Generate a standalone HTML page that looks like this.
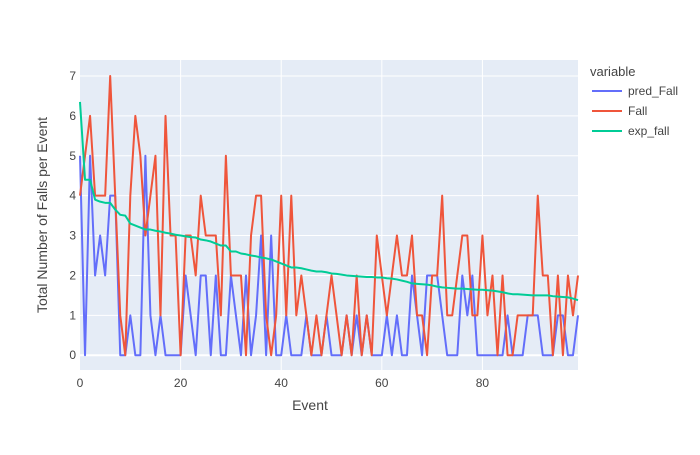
<!DOCTYPE html>
<html><head><meta charset="utf-8"><style>
body{margin:0;background:#fff;font-family:"Liberation Sans",Arial,sans-serif;}
svg text{font-family:"Liberation Sans",Arial,sans-serif;fill:#444;}
</style></head><body>
<svg id="chart" width="700" height="450">
<rect x="80" y="60" width="498" height="310" fill="#e5ecf6"/>
<g id="grid"></g><g id="series"></g><g id="axes"></g>
<text x="310" y="410" font-size="14" text-anchor="middle">Event</text>
<text transform="translate(47,215) rotate(-90)" font-size="14" text-anchor="middle">Total Number of Falls per Event</text>
<g>
<text x="590" y="76" font-size="13">variable</text>
<g><line x1="592" y1="91" x2="622" y2="91" stroke="#636efa" stroke-width="2"/><text x="628" y="95" font-size="12">pred_Fall</text></g>
<g><line x1="592" y1="111" x2="622" y2="111" stroke="#ef553b" stroke-width="2"/><text x="628" y="115" font-size="12">Fall</text></g>
<g><line x1="592" y1="131" x2="622" y2="131" stroke="#00cc96" stroke-width="2"/><text x="628" y="135" font-size="12">exp_fall</text></g>
</g>
</svg>
<script>
const xTicks=[0,20,40,60,80];
const yTicks=[0,1,2,3,4,5,6,7];
const predFall=[5,0,5,2,3,2,4,4,0,0,1,0,0,5,1,0,1,0,0,0,0,2,1,0,2,2,0,2,0,0,2,1,0,2,0,1,3,0,3,0,0,1,0,0,0,1,0,0,0,1,0,0,0,1,0,1,0,1,0,0,0,1,0,1,0,0,2,1,0,2,2,2,1,0,0,0,2,1,2,0,0,0,0,0,0,1,0,0,0,1,1,1,0,0,0,1,1,0,0,1];
const fall=[4,5,6,4,4,4,7,4,1,0,4,6,5,3,4,5,1,6,3,3,0,3,3,2,4,3,3,3,1,5,2,2,2,0,3,4,4,1,0,1,4,1,4,1,2,1,0,1,0,1,2,1,0,1,0,2,0,1,0,3,2,1,2,3,2,2,3,1,1,0,2,2,4,1,1,2,3,3,1,1,3,1,2,0,2,0,0,1,1,1,1,4,2,2,0,2,0,2,1,2];
const expFall=[6.35,4.4,4.4,3.9,3.85,3.82,3.82,3.65,3.52,3.5,3.3,3.25,3.2,3.15,3.15,3.12,3.1,3.07,3.05,3.02,3.0,2.98,2.96,2.95,2.9,2.88,2.85,2.8,2.75,2.75,2.6,2.6,2.55,2.53,2.5,2.48,2.45,2.43,2.4,2.35,2.3,2.25,2.2,2.2,2.18,2.15,2.12,2.1,2.1,2.08,2.05,2.04,2.02,2.0,1.99,1.98,1.97,1.96,1.96,1.95,1.95,1.93,1.92,1.9,1.87,1.84,1.8,1.79,1.78,1.77,1.75,1.72,1.7,1.69,1.68,1.67,1.67,1.66,1.65,1.64,1.64,1.63,1.62,1.6,1.58,1.55,1.53,1.53,1.52,1.51,1.5,1.5,1.5,1.5,1.48,1.47,1.46,1.45,1.42,1.38];
const X0=80,X1=578,Y0=370,Y1=60,xMin=0,xMax=99,yMin=-0.37,yMax=7.4;
function xs(v){return X0+(v-xMin)/(xMax-xMin)*(X1-X0);}
function ys(v){return Y0-(v-yMin)/(yMax-yMin)*(Y0-Y1);}
const NS='http://www.w3.org/2000/svg';
const grid=document.getElementById('grid'),axes=document.getElementById('axes'),ser=document.getElementById('series');
xTicks.forEach(t=>{
 if(t>0){const l=document.createElementNS(NS,'line');
 
 
 l.setAttribute('x1',xs(t));l.setAttribute('x2',xs(t));l.setAttribute('y1',Y1);l.setAttribute('y2',Y0);l.setAttribute('stroke','#fff');l.setAttribute('stroke-width','1');grid.appendChild(l);}
 const tx=document.createElementNS(NS,'text');
 
 
 tx.setAttribute('x',xs(t));tx.setAttribute('y',Y0+17);tx.setAttribute('font-size','12');tx.setAttribute('text-anchor','middle');tx.textContent=t;axes.appendChild(tx);
});
yTicks.forEach(t=>{
 const l=document.createElementNS(NS,'line');
 
 
 l.setAttribute('x1',X0);l.setAttribute('x2',X1);l.setAttribute('y1',ys(t));l.setAttribute('y2',ys(t));l.setAttribute('stroke','#fff');l.setAttribute('stroke-width',t===0?'2':'1');grid.appendChild(l);
 const tx=document.createElementNS(NS,'text');
 
 
 tx.setAttribute('x',X0-4);tx.setAttribute('y',ys(t)+4);tx.setAttribute('font-size','12');tx.setAttribute('text-anchor','end');tx.textContent=t;axes.appendChild(tx);
});
function line(arr,color,name){
 const p=document.createElementNS(NS,'polyline');
 
 
 p.setAttribute('points',arr.map((v,i)=>xs(i)+','+ys(v)).join(' '));
 p.setAttribute('fill','none');p.setAttribute('stroke',color);p.setAttribute('stroke-width','2');p.setAttribute('stroke-linejoin','round');
 ser.appendChild(p);
}
line(predFall,'#636efa','pred-fall-line');
line(fall,'#ef553b','fall-line');
line(expFall,'#00cc96','exp-fall-line');
</script>
</body></html>
